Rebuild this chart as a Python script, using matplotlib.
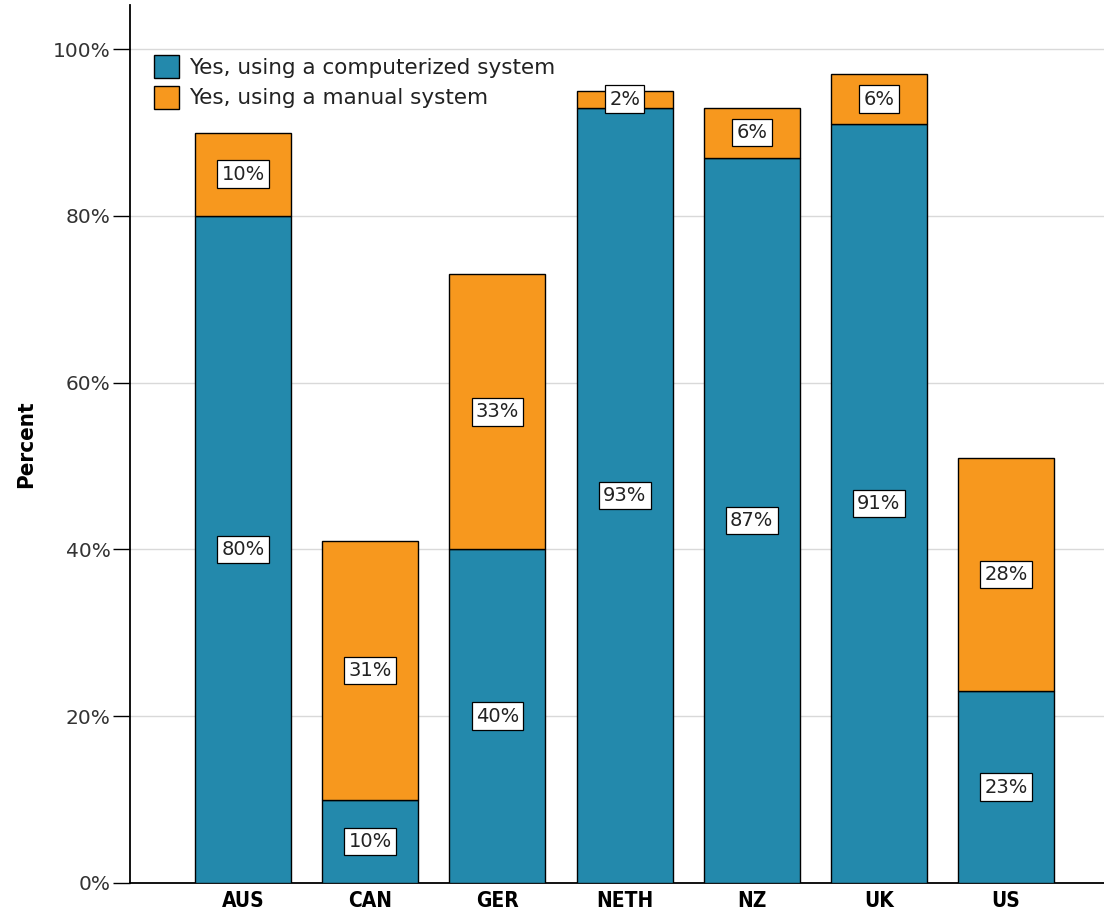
import numpy as np
import matplotlib.pyplot as plt
from matplotlib.ticker import PercentFormatter

countries = ["AUS", "CAN", "GER", "NETH", "NZ", "UK", "US"]
computerized = [80, 10, 40, 93, 87, 91, 23]
manual = [10, 31, 33, 2, 6, 6, 28]
series_names = ["Yes, using a computerized system", "Yes, using a manual system"]

blue = "#2389ac"
orange = "#f7981e"

fig = plt.figure(figsize=(11.04, 9.14), dpi=100)
ax = fig.add_axes([130 / 1104, 31 / 914, 974 / 1104, 878 / 914])

x = np.arange(len(countries))
width = 0.755
ax.bar(x, computerized, width, color=blue, edgecolor="black", linewidth=1.0,
       label=series_names[0], zorder=3)
ax.bar(x, manual, width, bottom=computerized, color=orange, edgecolor="black",
       linewidth=1.0, label=series_names[1], zorder=3)

box = dict(boxstyle="square,pad=0.22", facecolor="white", edgecolor="black", linewidth=0.9)
for i in range(len(countries)):
    ax.text(x[i], computerized[i] / 2, "%d%%" % computerized[i], ha="center", va="center",
            fontsize=14, color="#222222", bbox=box, zorder=5)
    ax.text(x[i], computerized[i] + manual[i] / 2, "%d%%" % manual[i], ha="center",
            va="center", fontsize=14, color="#222222", bbox=box, zorder=5)

ax.set_xlim(-0.89, 6.77)
ax.set_ylim(0, 105.3)
ax.set_yticks([0, 20, 40, 60, 80, 100])
ax.yaxis.set_major_formatter(PercentFormatter(decimals=0))
ax.yaxis.grid(True, color="#d9d9d9", linewidth=1.0, zorder=0)
ax.set_axisbelow(True)

ax.set_xticks(x)
ax.set_xticklabels(countries, fontsize=15, fontweight="bold", fontstretch="condensed")
ax.tick_params(axis="x", length=0, pad=6)
ax.tick_params(axis="y", length=12, width=1, labelsize=14.5, labelcolor="#333333", pad=2)

ax.set_ylabel("Percent", fontsize=16, fontweight="bold", fontstretch="condensed",
              labelpad=12)

for s in ["top", "right"]:
    ax.spines[s].set_visible(False)
ax.spines["left"].set_linewidth(1.3)
ax.spines["bottom"].set_linewidth(1.3)

leg = ax.legend(loc="upper left", bbox_to_anchor=(0.025, 0.9425), frameon=False,
                fontsize=15.5, handlelength=1.15, handleheight=1.25, handletextpad=0.45,
                labelspacing=0.35, borderaxespad=0.0, borderpad=0.0)
for t in leg.get_texts():
    t.set_color("#222222")

plt.savefig("out.png", dpi=100)
plt.close()
